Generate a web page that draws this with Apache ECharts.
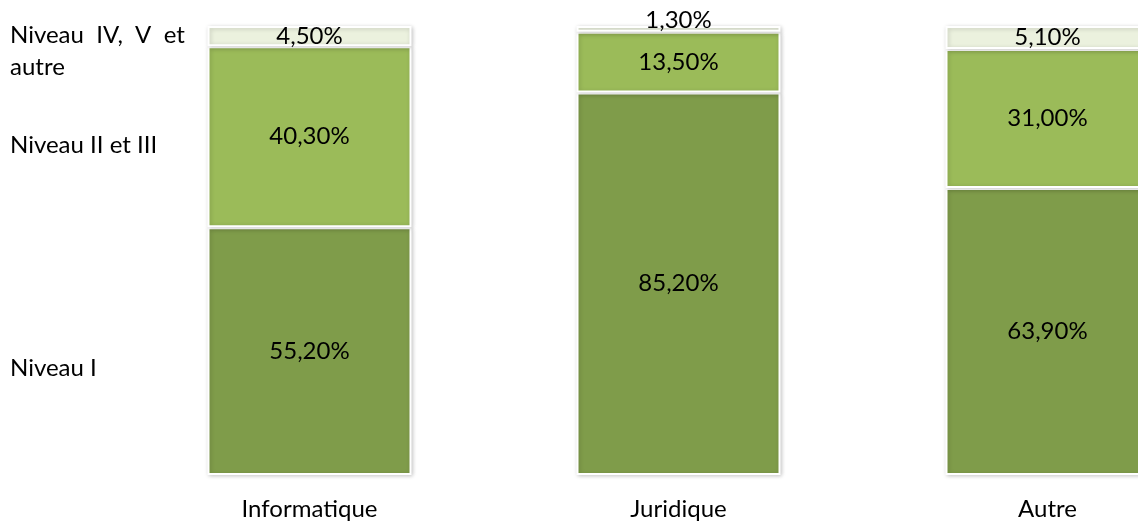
<!DOCTYPE html>
<html>
<head>
<meta charset="utf-8">
<script src="https://cdn.jsdelivr.net/npm/echarts@6/dist/echarts.min.js"></script>
<style>html,body{margin:0;padding:0;background:#fff;}#c{width:1138px;height:522px;}</style>
</head>
<body>
<div id="c"></div>
<script>
const categories = ['Informatique', 'Juridique', 'Autre'];
const seriesNames = ['Niveau I', 'Niveau II et III', 'Niveau IV, V et autre'];
const niveau1 = [55.2, 85.2, 63.9];
const niveau23 = [40.3, 13.5, 31.0];
const niveau45 = [4.5, 1.3, 5.1];

const colors = ['#7f9c4a', '#9bbb59', '#ebf1de'];
const fmt = v => v.toFixed(2).replace('.', ',') + '%';
const FONT = 'Lato';
const FS = 24;

function mkSeries(name, data, color, idx) {
  return {
    name: name,
    type: 'bar',
    stack: 'total',
    barWidth: 204,
    data: data.map((v, i) => {
      const d = { value: v };
      if (idx === 2 && v < 2) {
        d.label = { offset: [0, -9] };
      }
      return d;
    }),
    itemStyle: {
      color: color,
      borderColor: '#ffffff',
      borderWidth: 2,
      shadowBlur: 4,
      shadowColor: 'rgba(0,0,0,0.2)',
      shadowOffsetX: 1,
      shadowOffsetY: 1
    },
    label: {
      show: true,
      position: 'inside',
      color: '#000',
      fontFamily: FONT,
      fontSize: FS,
      formatter: p => fmt(p.value)
    },
    silent: true
  };
}

const chart = echarts.init(document.getElementById('c'));
chart.setOption({
  animation: false,
  backgroundColor: '#ffffff',
  grid: { left: 125, width: 1107, top: 26, bottom: 47, containLabel: false, outerBoundsMode: 'none' },
  xAxis: {
    type: 'category',
    data: categories,
    axisLine: { show: false },
    axisTick: { show: false },
    axisLabel: { color: '#000', fontFamily: FONT, fontSize: FS, margin: 22 }
  },
  yAxis: {
    type: 'value',
    min: 0,
    max: 100,
    show: false
  },
  series: [
    mkSeries(seriesNames[0], niveau1, colors[0], 0),
    mkSeries(seriesNames[1], niveau23, colors[1], 1),
    mkSeries(seriesNames[2], niveau45, colors[2], 2)
  ],
  graphic: [
    { type: 'text', left: 10, top: 19, style: { text: 'Niveau  IV,  V  et\nautre', fontFamily: FONT, fontSize: FS, fill: '#000', lineHeight: 32 } },
    { type: 'text', left: 10, top: 133, style: { text: seriesNames[1], fontFamily: FONT, fontSize: FS, fill: '#000' } },
    { type: 'text', left: 10, top: 356, style: { text: seriesNames[0], fontFamily: FONT, fontSize: FS, fill: '#000' } }
  ]
});
</script>
</body>
</html>
